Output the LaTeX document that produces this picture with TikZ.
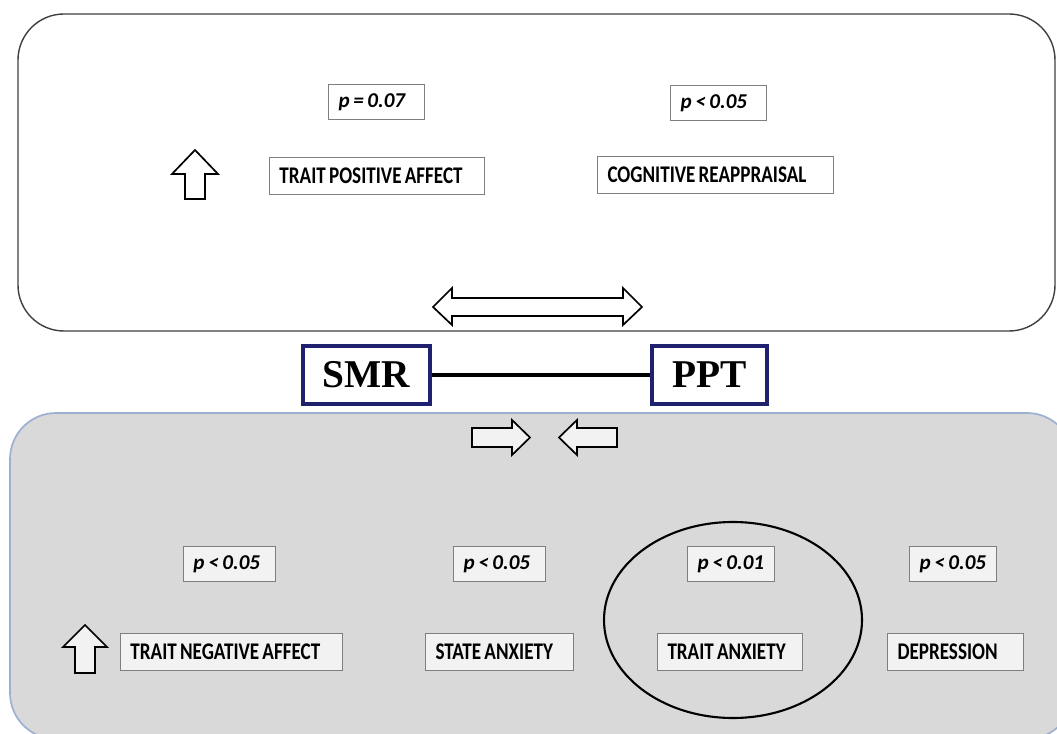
\documentclass[tikz,border=0pt]{standalone}
\usepackage{fontspec}
\setmainfont{Carlito}
\newfontfamily\lblfont{Carlito}[FakeStretch=0.8]
\newfontfamily\boxfont{Liberation Serif}
\definecolor{frameline}{RGB}{64,64,64}
\definecolor{lowfill}{RGB}{217,217,217}
\definecolor{lowline}{RGB}{156,176,210}
\definecolor{tagline}{RGB}{127,127,127}
\definecolor{tagfill}{RGB}{242,242,242}
\definecolor{navy}{RGB}{31,33,110}
\newcommand\pvaltext[1]{\mbox{\spaceskip 2.6pt\relax #1}}
\newcommand\traittext[1]{\mbox{\spaceskip 2.3pt\relax #1}}

\begin{document}
\begin{tikzpicture}[x=0.025cm,y=-0.025cm,
        pval/.style={draw=tagline, line width=0.7pt, fill=#1, anchor=north west, inner xsep=0.25cm, inner ysep=0pt,
            minimum height=0.875cm, align=left, font=\bfseries\itshape\fontsize{15}{17}\selectfont},
        trait/.style={pval=#1, minimum height=0.925cm, font=\lblfont\bfseries\fontsize{17}{19}\selectfont},
        test/.style={draw=navy, line width=2.6pt, fill=white, minimum height=1.45cm, inner sep=0pt,
            font=\boxfont\bfseries\fontsize{28}{30}\selectfont},
        blockarrow/.style={draw=black, line width=1.2pt, line join=miter, fill=#1}]
        \useasboundingbox (0,0) rectangle (1057,734);
        \clip (0,0) rectangle (1057,734);

        \draw[frameline, line width=1pt, rounded corners=1.15cm] (18,14) rectangle (1055,331);
        \draw[lowline, fill=lowfill, line width=1.2pt, rounded corners=1.15cm] (10,413) rectangle (1073,739);

        \node[pval=white, text width=1.9cm] (pPos) at (328,84) {\pvaltext{p = 0.07}};
        \node[trait=white, text width=4.875cm] (posAffect) at (269,157) {\traittext{TRAIT POSITIVE AFFECT}};
        \node[pval=white, text width=1.9cm] (pReap) at (670,85) {\pvaltext{p < 0.05}};
        \node[trait=white, text width=5.4cm] (reappraisal) at (597,156) {\traittext{COGNITIVE REAPPRAISAL}};

        \draw[blockarrow=white] (195,150) -- (218,174) -- (205,174) -- (205,199) -- (185,199) -- (185,174) -- (172,174) -- cycle;
        \draw[blockarrow=white] (433,307) -- (452,288) -- (452,298) -- (623,298) -- (623,288) -- (642,307)
            -- (623,325) -- (623,316) -- (452,316) -- (452,325) -- cycle;

        \node[test, minimum width=3.175cm] (smr) at (366.5,375) {SMR};
        \node[test, minimum width=2.875cm] (ppt) at (709.5,375) {PPT};
        \draw[line width=2.4pt] (smr) -- (ppt);

        \draw[blockarrow=tagfill] (472,428) -- (512,428) -- (512,420) -- (530,437.5) -- (512,455) -- (512,447) -- (472,447) -- cycle;
        \draw[blockarrow=tagfill] (617,428) -- (577,428) -- (577,420) -- (559,437.5) -- (577,455) -- (577,447) -- (617,447) -- cycle;
        \draw[blockarrow=tagfill] (85,625) -- (107,647) -- (95,647) -- (95,673) -- (75,673) -- (75,647) -- (63,647) -- cycle;

        \draw[line width=1.5pt] (733,620) ellipse (129 and 98);

        \node[pval=tagfill, text width=1.8cm] (pNeg) at (183,546) {\pvaltext{p < 0.05}};
        \node[trait=tagfill, text width=5.05cm] (negAffect) at (120,633) {\traittext{TRAIT NEGATIVE AFFECT}};
        \node[pval=tagfill, text width=1.8cm] (pState) at (453,546) {\pvaltext{p < 0.05}};
        \node[trait=tagfill, text width=3.2cm] (stateAnx) at (425,633) {\traittext{STATE ANXIETY}};
        \node[pval=tagfill, text width=1.675cm] (pTrait) at (687,546) {\pvaltext{p < 0.01}};
        \node[trait=tagfill, text width=3.125cm] (traitAnx) at (657,633) {\traittext{TRAIT ANXIETY}};
        \node[pval=tagfill, text width=1.675cm] (pDep) at (909,546) {\pvaltext{p < 0.05}};
        \node[trait=tagfill, text width=2.9cm] (depression) at (887,633) {\traittext{DEPRESSION}};
    \end{tikzpicture}
\end{document}
